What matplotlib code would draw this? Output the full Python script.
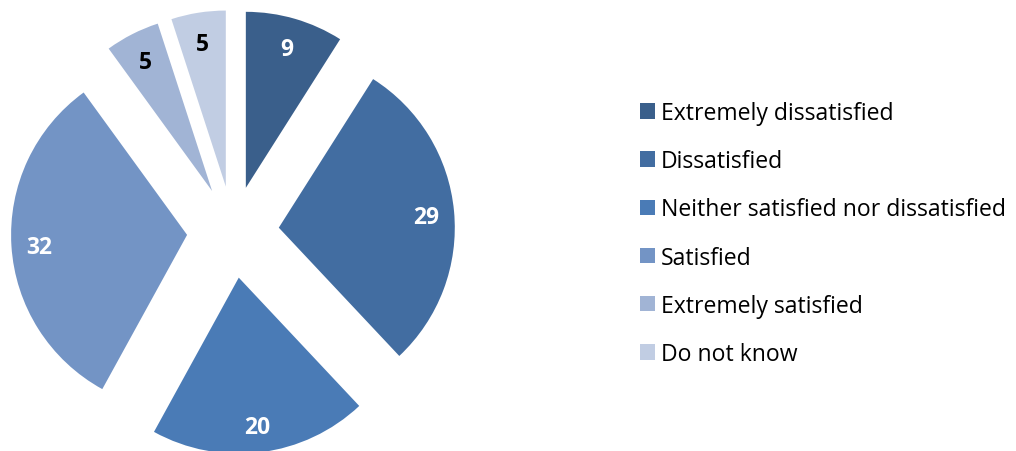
import matplotlib
matplotlib.use("Agg")
import matplotlib.pyplot as plt

# satisfaction survey breakdown
categories = [
    "Extremely dissatisfied",
    "Dissatisfied",
    "Neither satisfied nor dissatisfied",
    "Satisfied",
    "Extremely satisfied",
    "Do not know",
]
values = [9, 29, 20, 32, 5, 5]
colors = ["#3A5F8B", "#426DA1", "#4A7BB6", "#7394C5", "#A1B4D5", "#C1CDE3"]
label_colors = ["white", "white", "white", "white", "black", "black"]

W, H = 1016, 452
fig = plt.figure(figsize=(W / 100, H / 100), dpi=100)
ax = fig.add_axes([0, 0, 1, 1])

# work in pixel units so the pie sits where it should
cx, cy = 233, H - 233
radius = 176
wedges, texts, autotexts = ax.pie(
    values,
    colors=colors,
    startangle=90,
    counterclock=False,
    center=(cx, cy),
    radius=radius,
    explode=[46] * len(values),
    autopct=lambda p: f"{p:.0f}",
    pctdistance=0.84,
    textprops={"fontsize": 16.5, "fontweight": "bold", "family": "Open Sans"},
    wedgeprops={"linewidth": 0},
)
for t, c in zip(autotexts, label_colors):
    t.set_color(c)
    x, y = t.get_position()
    t.set_position((x, y - 3))

ax.set_xlim(0, W)
ax.set_ylim(0, H)
ax.set_aspect("equal")
ax.axis("off")

fig.legend(
    wedges,
    categories,
    loc="center left",
    bbox_to_anchor=(640 / W, 1 - 234.5 / H),
    frameon=False,
    prop={"family": "Open Sans", "size": 16.6},
    handlelength=0.66,
    handleheight=0.66,
    handletextpad=0.26,
    labelspacing=1.05,
    borderpad=0,
    borderaxespad=0,
)

plt.savefig("out.png", dpi=100)
